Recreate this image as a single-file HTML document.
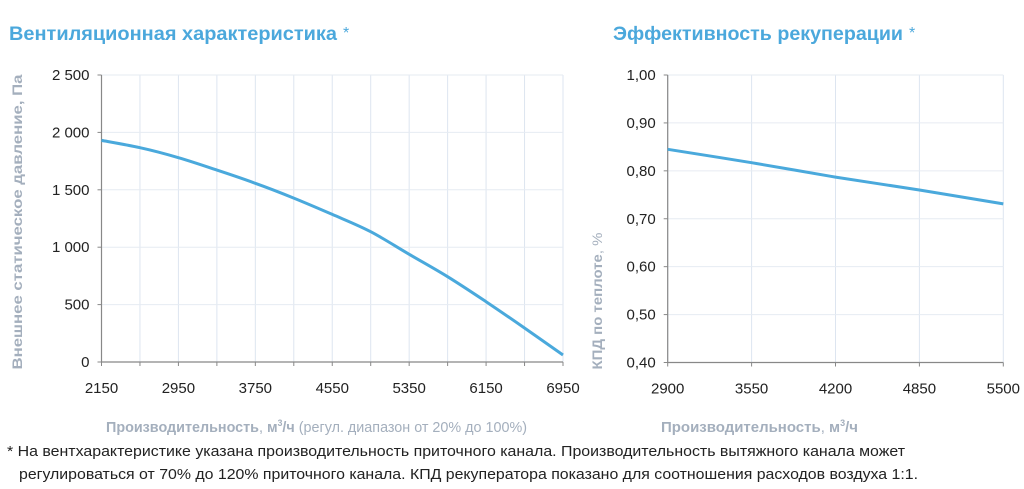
<!DOCTYPE html>
<html><head><meta charset="utf-8"><style>
body{margin:0;background:#fff;width:1024px;height:489px;overflow:hidden;font-family:"Liberation Sans",sans-serif}
svg{display:block}
</style></head><body>
<svg id="s" width="1024" height="489" xmlns="http://www.w3.org/2000/svg" font-family="Liberation Sans, sans-serif">
<text x="9" y="40" font-size="19" font-weight="bold" fill="#4ba8dc" textLength="328" lengthAdjust="spacingAndGlyphs">Вентиляционная характеристика</text>
<text x="343" y="38" font-size="16" fill="#4ba8dc">*</text>
<text x="613" y="40" font-size="19" font-weight="bold" fill="#4ba8dc" textLength="290" lengthAdjust="spacingAndGlyphs">Эффективность рекуперации</text>
<text x="909" y="38" font-size="16" fill="#4ba8dc">*</text>
<g id="left"></g>
<g id="right"></g>
<text transform="translate(22,222) rotate(-90)" text-anchor="middle" font-size="14" font-weight="bold" fill="#a4afbd" textLength="295" lengthAdjust="spacingAndGlyphs">Внешнее статическое давление, Па</text>
<text transform="translate(602,301) rotate(-90)" text-anchor="middle" font-size="14" fill="#a4afbd" textLength="137" lengthAdjust="spacingAndGlyphs"><tspan font-weight="bold">КПД по теплоте</tspan>, %</text>
<text x="106" y="432" font-size="15" fill="#a4afbd" textLength="421" lengthAdjust="spacingAndGlyphs"><tspan font-weight="bold">Производительность</tspan>, <tspan font-weight="bold">м<tspan dy="-6" font-size="9">3</tspan><tspan dy="6">/ч</tspan></tspan> (регул. диапазон от 20% до 100%)</text>
<text x="661" y="432" font-size="15" fill="#a4afbd" textLength="197" lengthAdjust="spacingAndGlyphs"><tspan font-weight="bold">Производительность</tspan>, <tspan font-weight="bold">м<tspan dy="-6" font-size="9">3</tspan><tspan dy="6">/ч</tspan></tspan></text>
<text x="7" y="456" font-size="15" fill="#222" textLength="898" lengthAdjust="spacingAndGlyphs">* На вентхарактеристике указана производительность приточного канала. Производительность вытяжного канала может</text>
<text x="19" y="479" font-size="15" fill="#222" textLength="899" lengthAdjust="spacingAndGlyphs">регулироваться от 70% до 120% приточного канала. КПД рекуператора показано для соотношения расходов воздуха 1:1.</text>
</svg>
<script>
const fanX=[2150,2550,2950,3350,3750,4150,4550,4950,5350,5750,6150,6550,6950];
const fanY=[1930,1867,1780,1672,1557,1428,1286,1135,938,743,525,296,61];
const fanXTicks=[2150,2950,3750,4550,5350,6150,6950];
const fanYTicks=[0,500,1000,1500,2000,2500];
const fanYLabels=["0","500","1 000","1 500","2 000","2 500"];
const recX=[2900,3550,4200,4850,5500];
const recY=[0.845,0.817,0.787,0.760,0.731];
const recXTicks=[2900,3550,4200,4850,5500];
const recYTicks=[0.4,0.5,0.6,0.7,0.8,0.9,1.0];
const recYLabels=["0,40","0,50","0,60","0,70","0,80","0,90","1,00"];
const NS="http://www.w3.org/2000/svg";
function mk(p,t,a){const e=document.createElementNS(NS,t);for(const k in a)e.setAttribute(k,a[k]);p.appendChild(e);return e;}
function smooth(pts){let d='M'+pts[0][0].toFixed(1)+','+pts[0][1].toFixed(1);
  for(let i=0;i<pts.length-1;i++){const p0=pts[Math.max(0,i-1)],p1=pts[i],p2=pts[i+1],p3=pts[Math.min(pts.length-1,i+2)];
    const c1x=p1[0]+(p2[0]-p0[0])/6,c1y=p1[1]+(p2[1]-p0[1])/6,c2x=p2[0]-(p3[0]-p1[0])/6,c2y=p2[1]-(p3[1]-p1[1])/6;
    d+=`C${c1x.toFixed(1)},${c1y.toFixed(1)} ${c2x.toFixed(1)},${c2y.toFixed(1)} ${p2[0].toFixed(1)},${p2[1].toFixed(1)}`;}
  return d;}
function chart(g,o){
  const sx=v=>o.x0+(v-o.xmin)/(o.xmax-o.xmin)*(o.x1-o.x0);
  const sy=v=>o.y0-(v-o.ymin)/(o.ymax-o.ymin)*(o.y0-o.y1);
  for(let i=0;i<=o.vn;i++){const v=o.xmin+(o.xmax-o.xmin)*i/o.vn;const x=sx(v);
    const l=mk(g,'line',{x1:x,x2:x,y1:o.y1,y2:o.y0,stroke:'#dde5f0','stroke-width':1});
    
    const t=mk(g,'line',{x1:x,x2:x,y1:o.y0,y2:o.y0+4,stroke:'#888'});
    }
  o.yt.forEach((v,i)=>{const y=sy(v);
    if(i>0){const l=mk(g,'line',{x1:o.x0,x2:o.x1,y1:y,y2:y,stroke:'#e6ebf2'});
      }
    const tk=mk(g,'line',{x1:o.x0-4,x2:o.x0,y1:y,y2:y,stroke:'#888'});
    
    const t=mk(g,'text',{x:o.x0-12,y:y+5,'text-anchor':'end','font-size':15,fill:'#222'});t.textContent=o.yl[i];
    });
  o.xt.forEach(v=>{const t=mk(g,'text',{x:sx(v),y:o.y0+31,'text-anchor':'middle','font-size':15,fill:'#222'});t.textContent=String(v);
    });
  const ax=mk(g,'path',{d:`M${o.x0},${o.y1}V${o.y0}H${o.x1}`,fill:'none',stroke:'#888','stroke-width':1.2});
  
  const pts=o.xs.map((v,i)=>[sx(v),sy(o.ys[i])]);
  const p=mk(g,'path',{d:smooth(pts),fill:'none',stroke:'#4aa9dc','stroke-width':3,'stroke-linejoin':'round'});
  
}
chart(document.getElementById('left'),{x0:101.5,x1:563,y0:362,y1:75,xmin:2150,xmax:6950,ymin:0,ymax:2500,vn:12,xt:fanXTicks,yt:fanYTicks,yl:fanYLabels,xs:fanX,ys:fanY});
chart(document.getElementById('right'),{x0:667.7,x1:1003.3,y0:362.5,y1:75,xmin:2900,xmax:5500,ymin:0.4,ymax:1.0,vn:4,xt:recXTicks,yt:recYTicks,yl:recYLabels,xs:recX,ys:recY});
</script>
</body></html>
